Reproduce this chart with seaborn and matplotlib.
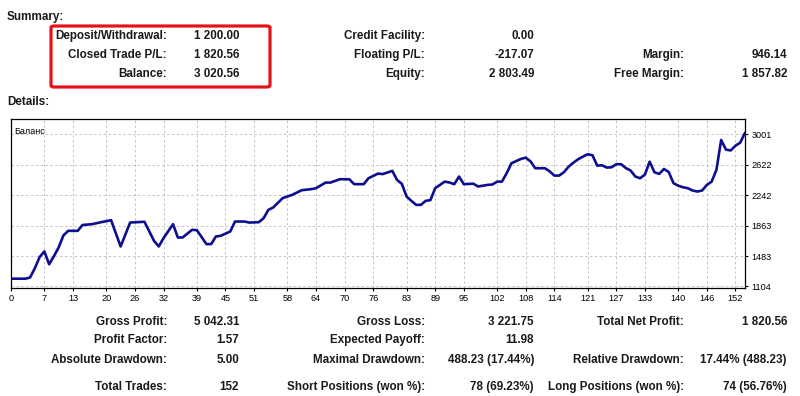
import matplotlib
matplotlib.use("Agg")
import matplotlib.pyplot as plt
import seaborn as sns
from matplotlib.patches import FancyBboxPatch

# -----------------------------
# Data read off the statement
# -----------------------------
trade_no = [0, 3, 4, 5, 6, 7, 8, 9, 10, 11, 12, 14, 15, 17, 19, 21, 23, 25, 28, 30,
            31, 32, 34, 35, 36, 38, 39, 41, 42, 43, 44, 46, 47, 49, 50, 52, 53, 54, 55, 57,
            58, 59, 61, 63, 64, 66, 67, 69, 71, 72, 74, 75, 77, 78, 80, 81, 82, 83, 84, 85,
            86, 87, 88, 89, 91, 92, 93, 94, 95, 97, 98, 100, 101, 102, 103, 104, 105, 107, 108, 109,
            110, 112, 113, 114, 115, 116, 117, 118, 119, 120, 121, 122, 123, 124, 125, 126, 127, 128, 129, 130,
            131, 132, 133, 134, 135, 136, 137, 138, 139, 140, 141, 142, 143, 144, 145, 146, 147, 148, 149, 150,
            151, 152, 153, 154]
balance = [1200, 1200, 1215, 1330, 1470, 1540, 1380, 1480, 1590, 1740, 1797, 1797, 1870, 1880, 1906, 1930, 1602, 1901, 1910, 1673,
           1602, 1706, 1880, 1714, 1714, 1810, 1805, 1632, 1632, 1727, 1735, 1789, 1913, 1913, 1900, 1905, 1955, 2059, 2088, 2205,
           2225, 2246, 2304, 2317, 2329, 2399, 2399, 2441, 2440, 2379, 2379, 2453, 2511, 2505, 2545, 2432, 2383, 2225, 2171, 2121,
           2121, 2171, 2180, 2329, 2411, 2400, 2379, 2474, 2379, 2385, 2350, 2370, 2375, 2411, 2411, 2516, 2640, 2694, 2710, 2663,
           2578, 2578, 2540, 2486, 2486, 2528, 2598, 2648, 2690, 2723, 2752, 2740, 2610, 2615, 2586, 2590, 2628, 2628, 2580, 2549,
           2474, 2453, 2499, 2660, 2528, 2507, 2569, 2530, 2391, 2360, 2340, 2329, 2300, 2287, 2300, 2370, 2411, 2557, 2930, 2810,
           2800, 2859, 2897, 3020]

x_ticks = [0, 7, 13, 20, 26, 32, 39, 45, 51, 58, 64, 70, 76, 83, 89, 95, 102, 108, 114, 121, 127, 133, 140, 146, 152]
y_ticks = [1104, 1483, 1863, 2242, 2622, 3001]

summary_labels = [["Deposit/Withdrawal:", "Closed Trade P/L:", "Balance:"],
                  ["Credit Facility:", "Floating P/L:", "Equity:"],
                  ["", "Margin:", "Free Margin:"]]
summary_values = [["1 200.00", "1 820.56", "3 020.56"],
                  ["0.00", "-217.07", "2 803.49"],
                  ["", "946.14", "1 857.82"]]

details_labels = [["Gross Profit:", "Profit Factor:", "Absolute Drawdown:", "Total Trades:"],
                  ["Gross Loss:", "Expected Payoff:", "Maximal Drawdown:", "Short Positions (won %):"],
                  ["Total Net Profit:", "", "Relative Drawdown:", "Long Positions (won %):"]]
details_values = [["5 042.31", "1.57", "5.00", "152"],
                  ["3 221.75", "11.98", "488.23 (17.44%)", "78 (69.23%)"],
                  ["1 820.56", "", "17.44% (488.23)", "74 (56.76%)"]]

# -----------------------------
# Figure setup
# -----------------------------
sns.set_style("white")
plt.rcParams["font.family"] = ["Liberation Sans", "DejaVu Sans"]

W, H = 800, 396
fig = plt.figure(figsize=(W / 100, H / 100), dpi=100)
fig.patch.set_facecolor("white")

def px(x, y):
    return x / W, 1 - y / H

text_color = "#1a1a1a"
fs = 8.4

def put(x, y, s, ha="right"):
    fx, fy = px(x, y)
    fig.text(fx, fy, s, ha=ha, va="center", fontsize=fs, fontweight="bold", color=text_color)

# headings
put(7, 17, "Summary:", ha="left")
put(7, 102, "Details:", ha="left")

# summary block
label_right = [167, 425, 684]
value_right = [239, 534, 787]
summary_rows = [36, 55, 74]
for c in range(3):
    for r in range(3):
        put(label_right[c], summary_rows[r], summary_labels[c][r])
        put(value_right[c], summary_rows[r], summary_values[c][r])

# red highlight box
bx0, by0 = px(51, 87)
bx1, by1 = px(270, 26)
box = FancyBboxPatch((bx0, by0), bx1 - bx0, by1 - by0,
                     boxstyle="round,pad=0,rounding_size=0.004",
                     transform=fig.transFigure, fill=False,
                     edgecolor="#e3121b", linewidth=2.3)
fig.patches.append(box)

# details block
details_rows = [322, 340, 360, 387]
for c in range(3):
    for r in range(4):
        put(label_right[c], details_rows[r], details_labels[c][r])
        put(value_right[c], details_rows[r], details_values[c][r])

# -----------------------------
# Balance chart
# -----------------------------
ax = fig.add_axes([11 / W, 1 - 288 / H, 734 / W, 169 / H])
sns.lineplot(x=trade_no, y=balance, ax=ax, color="#0e0e90", linewidth=1.9)
ax.set_xlim(0, 154)
ax.set_ylim(1084, 3192)
ax.set_xticks(x_ticks)
ax.set_yticks(y_ticks)
ax.yaxis.tick_right()
ax.tick_params(axis="both", labelsize=6.6, colors="black", length=2.5, width=0.8,
               direction="out", pad=2)
ax.tick_params(axis="y", right=True, left=False)
ax.tick_params(axis="x", bottom=True)
ax.grid(True, linestyle=(0, (2.5, 2.5)), color="#c4c4c4", linewidth=0.7)
for side in ["top", "bottom", "left", "right"]:
    ax.spines[side].set_visible(True)
    ax.spines[side].set_color("black")
    ax.spines[side].set_linewidth(0.9)
ax.set_xlabel("")
ax.set_ylabel("")
ax.text(0.004, 0.95, "Баланс", transform=ax.transAxes, ha="left", va="top",
        fontsize=6.5, color="black")

fig.savefig("out.png", dpi=100)
